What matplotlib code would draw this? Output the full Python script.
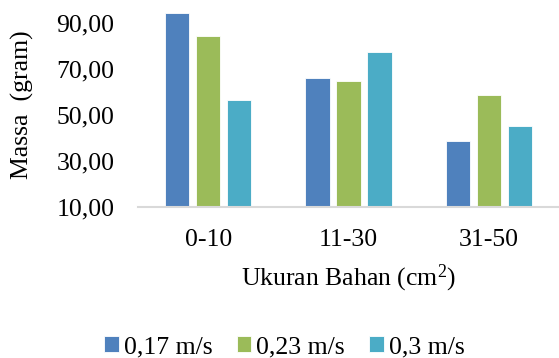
import numpy as np
import matplotlib.pyplot as plt

plt.rcParams['font.family'] = ['Liberation Serif', 'DejaVu Serif']
plt.rcParams['mathtext.fontset'] = 'custom'
plt.rcParams['mathtext.rm'] = 'Liberation Serif'

# mass per material size, one series per air speed
ukuran = ['0-10', '11-30', '31-50']
kecepatan = ['0,17 m/s', '0,23 m/s', '0,3 m/s']
massa_017 = [94.3, 66.2, 38.7]
massa_023 = [84.2, 64.6, 58.8]
massa_030 = [56.6, 77.5, 45.4]
warna = ['#4F81BD', '#9BBB59', '#4BACC6']
yticks = [10, 30, 50, 70, 90]

fig = plt.figure(figsize=(5.59, 3.58), dpi=100)
ax = fig.add_axes([138/559, 1 - 207/358, 421/559, 207/358])

x = np.arange(len(ukuran))
w = 0.174
step = 0.221
for i, (vals, lab, c) in enumerate(zip([massa_017, massa_023, massa_030], kecepatan, warna)):
    ax.bar(x + (i - 1) * step, np.array(vals) - 10, bottom=10, width=w, color=c,
           edgecolor='white', linewidth=0.6, label=lab, zorder=2)

ax.set_xlim(-0.5, 2.5)
ax.set_ylim(10, 100)
ax.set_yticks(yticks)
ax.set_yticklabels(['%d,00' % v for v in yticks], fontsize=18.5)
ax.set_xticks(x)
ax.set_xticklabels(ukuran, fontsize=18.5)
ax.tick_params(length=0)
ax.tick_params(axis='y', pad=17)
ax.tick_params(axis='x', pad=16)

for s in ['top', 'right', 'left']:
    ax.spines[s].set_visible(False)
ax.spines['bottom'].set_color('#D9D9D9')
ax.spines['bottom'].set_linewidth(1.5)
ax.spines['bottom'].set_zorder(3)

fig.text(22/559, 1 - 105/358, 'Massa  (gram)', rotation=90, fontsize=18.5,
         ha='center', va='center')
fig.text(349/559, 1 - 278/358, 'Ukuran Bahan (cm$\\mathregular{^{2}}$)', fontsize=18.5,
         ha='center', va='center')

fig.legend(loc='center', bbox_to_anchor=(284.5/559, 1 - 347/358), ncol=3,
           frameon=False, fontsize=18.5, handlelength=0.56, handleheight=0.56,
           handletextpad=0.2, columnspacing=0.95, borderpad=0)

fig.savefig('out.png', dpi=100)
